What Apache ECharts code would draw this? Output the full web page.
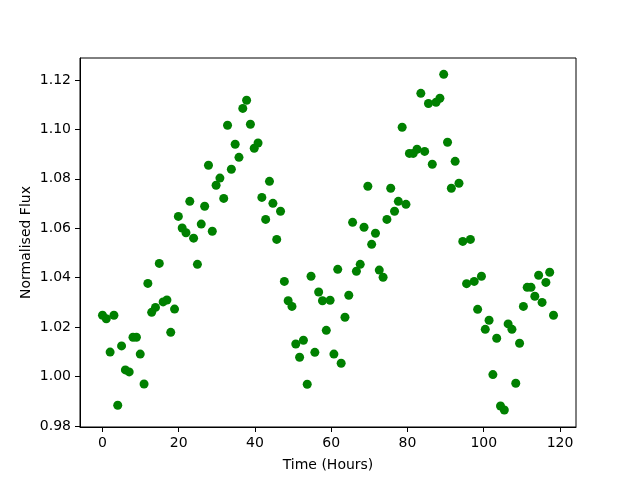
<!DOCTYPE html>
<html>
<head>
<meta charset="utf-8">
<script src="https://cdn.jsdelivr.net/npm/echarts@6/dist/echarts.min.js"></script>
<style>
  html, body { margin: 0; padding: 0; background: #fff; }
  #chart { width: 640px; height: 480px; }
</style>
</head>
<body>
<div id="chart"></div>
<script>
// time of each sample, hours
const hours = [
  0, 1.0, 2.0, 3.0, 4.0, 5.0, 6.0, 7.0, 8.0, 8.9,
  9.9, 10.9, 11.9, 12.9, 13.9, 14.9, 15.9, 16.9, 17.9, 18.9,
  19.9, 20.9, 21.9, 22.9, 23.9, 24.9, 25.9, 26.8, 27.8, 28.8,
  29.8, 30.8, 31.8, 32.8, 33.8, 34.8, 35.8, 36.8, 37.8, 38.8,
  39.8, 40.8, 41.8, 42.8, 43.8, 44.7, 45.7, 46.7, 47.7, 48.7,
  49.7, 50.7, 51.7, 52.7, 53.7, 54.7, 55.7, 56.7, 57.7, 58.7,
  59.7, 60.7, 61.7, 62.6, 63.6, 64.6, 65.6, 66.6, 67.6, 68.6,
  69.6, 70.6, 71.6, 72.6, 73.6, 74.6, 75.6, 76.6, 77.6, 78.6,
  79.6, 80.5, 81.5, 82.5, 83.5, 84.5, 85.5, 86.5, 87.5, 88.5,
  89.5, 90.5, 91.5, 92.5, 93.5, 94.5, 95.5, 96.5, 97.5, 98.4,
  99.4, 100.4, 101.4, 102.4, 103.4, 104.4, 105.4, 106.4, 107.4, 108.4,
  109.4, 110.4, 111.4, 112.4, 113.4, 114.4, 115.3, 116.3, 117.3, 118.3
];

// normalised flux
const flux = [
  1.0248, 1.0234, 1.0099, 1.0248, 0.9884, 1.0124, 1.0027, 1.0019, 1.0159, 1.0159,
  1.0091, 0.9970, 1.0377, 1.0260, 1.0280, 1.0458, 1.0302, 1.0310, 1.0179, 1.0273,
  1.0648, 1.0601, 1.0582, 1.0709, 1.0560, 1.0454, 1.0617, 1.0689, 1.0855, 1.0588,
  1.0774, 1.0803, 1.0721, 1.1017, 1.0839, 1.0940, 1.0887, 1.1085, 1.1118, 1.1021,
  1.0924, 1.0945, 1.0725, 1.0636, 1.0790, 1.0701, 1.0555, 1.0669, 1.0385, 1.0307,
  1.0284, 1.0132, 1.0078, 1.0147, 0.9969, 1.0406, 1.0098, 1.0342, 1.0307, 1.0187,
  1.0309, 1.0091, 1.0434, 1.0054, 1.0240, 1.0329, 1.0624, 1.0426, 1.0454, 1.0604,
  1.0770, 1.0535, 1.0580, 1.0431, 1.0402, 1.0636, 1.0762, 1.0669, 1.0709, 1.1009,
  1.0697, 1.0903, 1.0903, 1.0920, 1.1146, 1.0911, 1.1105, 1.0859, 1.1110, 1.1126,
  1.1223, 1.0948, 1.0762, 1.0871, 1.0782, 1.0547, 1.0376, 1.0555, 1.0385, 1.0272,
  1.0406, 1.0191, 1.0228, 1.0008, 1.0155, 0.9881, 0.9865, 1.0213, 1.0191, 0.9973,
  1.0135, 1.0284, 1.0361, 1.0361, 1.0325, 1.0410, 1.0300, 1.0381, 1.0422, 1.0248
];

const xTicks = [0, 20, 40, 60, 80, 100, 120];
const yTicks = [0.98, 1.00, 1.02, 1.04, 1.06, 1.08, 1.10, 1.12];

const chart = echarts.init(document.getElementById('chart'));

const font = 'DejaVu Sans';

const option = {
  animation: false,
  backgroundColor: '#fff',
  grid: {
    left: 80, right: 64, top: 58, bottom: 53,
    show: true, borderColor: '#000', borderWidth: 1,
    containLabel: false
  },
  xAxis: {
    type: 'value',
    min: -5.9,
    max: 124.2,
    name: 'Time (Hours)',
    nameLocation: 'middle',
    nameGap: 31,
    nameMoveOverlap: false,
    nameTextStyle: { color: '#000', fontFamily: font, fontSize: 14 },
    axisLine: { show: true, onZero: false, lineStyle: { color: '#000', width: 1 } },
    axisTick: { show: true, inside: false, length: 5, lineStyle: { color: '#000' }, customValues: xTicks },
    axisLabel: { color: '#000', fontFamily: font, fontSize: 14, margin: 9, customValues: xTicks },
    splitLine: { show: false }
  },
  yAxis: {
    type: 'value',
    min: 0.9796,
    max: 1.1289,
    name: 'Normalised Flux',
    nameLocation: 'middle',
    nameGap: 47,
    nameMoveOverlap: false,
    nameTextStyle: { color: '#000', fontFamily: font, fontSize: 14 },
    axisLine: { show: true, onZero: false, lineStyle: { color: '#000', width: 1 } },
    axisTick: { show: true, inside: false, length: 5, lineStyle: { color: '#000' }, customValues: yTicks },
    axisLabel: {
      color: '#000', fontFamily: font, fontSize: 14, margin: 9, customValues: yTicks,
      formatter: v => v.toFixed(2)
    },
    splitLine: { show: false }
  },
  series: [{
    type: 'scatter',
    data: hours.map((h, i) => [h, flux[i]]),
    symbol: 'circle',
    symbolSize: 9,
    itemStyle: { color: '#008000', opacity: 1 }
  }]
};

chart.setOption(option);
</script>
</body>
</html>
